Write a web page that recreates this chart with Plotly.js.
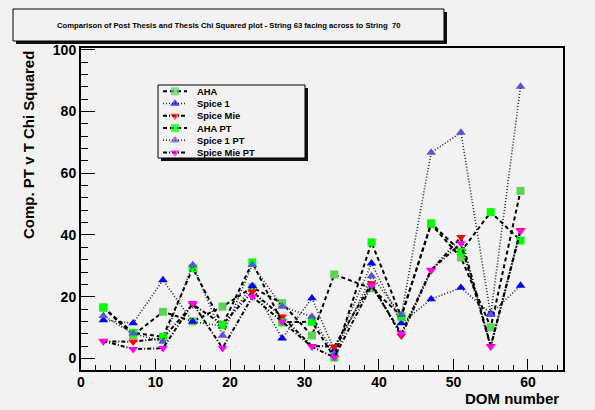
<!DOCTYPE html>
<html>
<head>
<meta charset="utf-8">
<script src="https://cdn.plot.ly/plotly-3.0.1.min.js"></script>
<style>html,body{margin:0;padding:0;background:#f2f2f2;}#chart{width:595px;height:410px;}</style>
</head>
<body>
<div id="chart"></div>
<script>
// ---- data ----
var doms = [3, 7, 11, 15, 19, 23, 27, 31, 34, 39, 43, 47, 51, 55, 59];
var aha = [16.5, 7.5, 15.1, 12.0, 16.8, 23.0, 17.9, 7.4, 27.2, 22.7, 13.8, 43.5, 32.7, 10.1, 54.3];
var spice1 = [12.4, 11.4, 25.4, 11.9, 10.5, 23.5, 6.5, 19.5, 2.7, 30.8, 11.4, 19.2, 22.9, 14.5, 23.6];
var spiceMie = [5.5, 5.4, 6.5, 17.5, 11.0, 21.6, 13.5, 4.0, 3.8, 24.3, 7.3, 28.5, 39.3, 4.0, 41.6];
var ahaPT = [16.5, 8.3, 7.0, 29.2, 10.8, 31.1, 11.7, 11.9, 0.3, 37.6, 13.5, 43.8, 34.6, 47.4, 38.2];
var spice1PT = [13.8, 8.1, 5.4, 30.3, 7.4, 30.3, 16.8, 13.5, 1.5, 26.7, 14.1, 66.7, 73.2, 14.1, 88.1];
var spiceMiePT = [5.7, 3.0, 3.3, 17.9, 3.3, 20.0, 11.9, 3.8, 0.3, 23.6, 8.1, 28.7, 37.3, 3.8, 41.3];
var seriesNames = ["AHA", "Spice 1", "Spice Mie", "AHA PT", "Spice 1 PT", "Spice Mie PT"];
var chartTitle = "Comparison of Post Thesis and Thesis Chi Squared plot - String 63 facing across to String  70";
var xTitle = "DOM number";
var yTitle = "Comp. PT v T Chi Squared";

// ---- styles ----
var seriesValues = [aha, spice1, spiceMie, ahaPT, spice1PT, spiceMiePT];
var styles = [
  {sym: "square", col: "#59d454", dash: "4px,3px", w: 2, lc: "#000", ms: 8},
  {sym: "triangle-up", col: "#0000ff", dash: "1px,2px", w: 1.6, lc: "#222", ms: 8.5},
  {sym: "triangle-down", col: "#ff0000", dash: "4px,2px,1px,2px", w: 2, lc: "#000", ms: 8.5},
  {sym: "square", col: "#00ff00", dash: "4px,3px", w: 2, lc: "#000", ms: 8},
  {sym: "triangle-up", col: "#5954d8", dash: "1px,2px", w: 1.6, lc: "#222", ms: 8.5},
  {sym: "triangle-down", col: "#ff00ff", dash: "4px,2px,1px,2px", w: 2, lc: "#000", ms: 8.5}
];

var W = 595, H = 410, ML = 81, MR = 32, MT = 48, MB = 40;
var PW = W - ML - MR, PH = H - MT - MB;
function px(x) { return (x - ML) / PW; }
function py(y) { return (H - MB - y) / PH; }

var traces = [];
seriesNames.forEach(function (name, i) {
  var s = styles[i];
  traces.push({
    x: doms, y: seriesValues[i], name: name, type: "scatter", mode: "lines+markers",
    xaxis: "x", yaxis: "y", showlegend: false,
    line: {color: s.lc, width: s.w, dash: s.dash},
    marker: {symbol: s.sym, color: s.col, size: s.ms, line: {width: 0}}
  });
});

// custom legend (drawn on a helper pixel axis)
var legRow0 = 91.3, legStep = 12.25;
var annotations = [];
seriesNames.forEach(function (name, i) {
  var s = styles[i];
  var r = legRow0 + i * legStep;
  traces.push({
    x: [163, 175, 187], y: [r, r, r], type: "scatter", mode: "lines+markers",
    xaxis: "x2", yaxis: "y2", showlegend: false, hoverinfo: "skip",
    line: {color: s.lc, width: s.w, dash: s.dash},
    marker: {symbol: s.sym, color: s.col, size: [0, s.ms, 0], line: {width: 0}}
  });
  annotations.push({
    xref: "x2", yref: "y2", x: 195, y: r, xanchor: "left", yanchor: "middle",
    text: name, showarrow: false,
    font: {family: "Liberation Sans, Arial, sans-serif", size: 9.4, weight: "bold", color: "#000"}
  });
});

annotations.push({
  xref: "paper", yref: "paper", x: px(228.5), y: py(25), xanchor: "center", yanchor: "middle",
  text: chartTitle, showarrow: false,
  font: {family: "Liberation Sans, Arial, sans-serif", size: 7.7, weight: "bold", color: "#000"}
});
annotations.push({
  xref: "paper", yref: "paper", x: px(561), y: py(398), xanchor: "right", yanchor: "middle",
  text: xTitle, showarrow: false,
  font: {family: "Liberation Sans, Arial, sans-serif", size: 15, weight: "bold", color: "#000"}
});
annotations.push({
  xref: "paper", yref: "paper", x: px(28), y: py(145), xanchor: "center", yanchor: "middle",
  text: yTitle, showarrow: false, textangle: -90,
  font: {family: "Liberation Sans, Arial, sans-serif", size: 15, weight: "bold", color: "#000"}
});

var shapes = [
  // title box shadow + box
  {type: "rect", xref: "paper", yref: "paper", x0: px(16), x1: px(447), y0: py(12), y1: py(44),
   fillcolor: "#111", line: {width: 0}, layer: "above"},
  {type: "rect", xref: "paper", yref: "paper", x0: px(13), x1: px(444), y0: py(9), y1: py(41),
   fillcolor: "#f2f2f2", line: {color: "#000", width: 1}, layer: "above"},
  // legend shadow + box
  {type: "rect", xref: "paper", yref: "paper", x0: px(161), x1: px(308), y0: py(88), y1: py(161),
   fillcolor: "#111", line: {width: 0}, layer: "below"},
  {type: "rect", xref: "paper", yref: "paper", x0: px(158), x1: px(305), y0: py(85), y1: py(158),
   fillcolor: "#f2f2f2", line: {color: "#000", width: 1}, layer: "below"}
];

var tickFont = {family: "Liberation Sans, Arial, sans-serif", size: 14, weight: "bold", color: "#000"};
var layout = {
  width: W, height: H,
  margin: {l: ML, r: MR, t: MT, b: MB, pad: 0},
  paper_bgcolor: "#f2f2f2", plot_bgcolor: "#f2f2f2",
  showlegend: false,
  xaxis: {
    range: [0, 64.7], showgrid: false, zeroline: false,
    showline: true, linecolor: "#000", linewidth: 2, mirror: true,
    ticks: "inside", ticklen: 11, tickwidth: 1, tickcolor: "#000", dtick: 10, tick0: 0,
    ticklabelstandoff: -2,
    minor: {dtick: 2, ticks: "inside", ticklen: 5, tickcolor: "#000", tickwidth: 1, showgrid: false},
    tickfont: tickFont
  },
  yaxis: {
    range: [-3.76, 100.6], showgrid: false, zeroline: false,
    showline: true, linecolor: "#000", linewidth: 2, mirror: true,
    ticks: "inside", ticklen: 14, tickwidth: 1, tickcolor: "#000", dtick: 20, tick0: 0,
    minor: {dtick: 4, ticks: "inside", ticklen: 7, tickcolor: "#000", tickwidth: 1, showgrid: false},
    tickfont: tickFont
  },
  xaxis2: {overlaying: "x", anchor: "y2", range: [ML, W - MR], visible: false, fixedrange: true},
  yaxis2: {overlaying: "y", anchor: "x2", range: [H - MB, MT], visible: false, fixedrange: true},
  annotations: annotations,
  shapes: shapes
};

Plotly.newPlot("chart", traces, layout, {displayModeBar: false, staticPlot: true});
</script>
</body>
</html>
